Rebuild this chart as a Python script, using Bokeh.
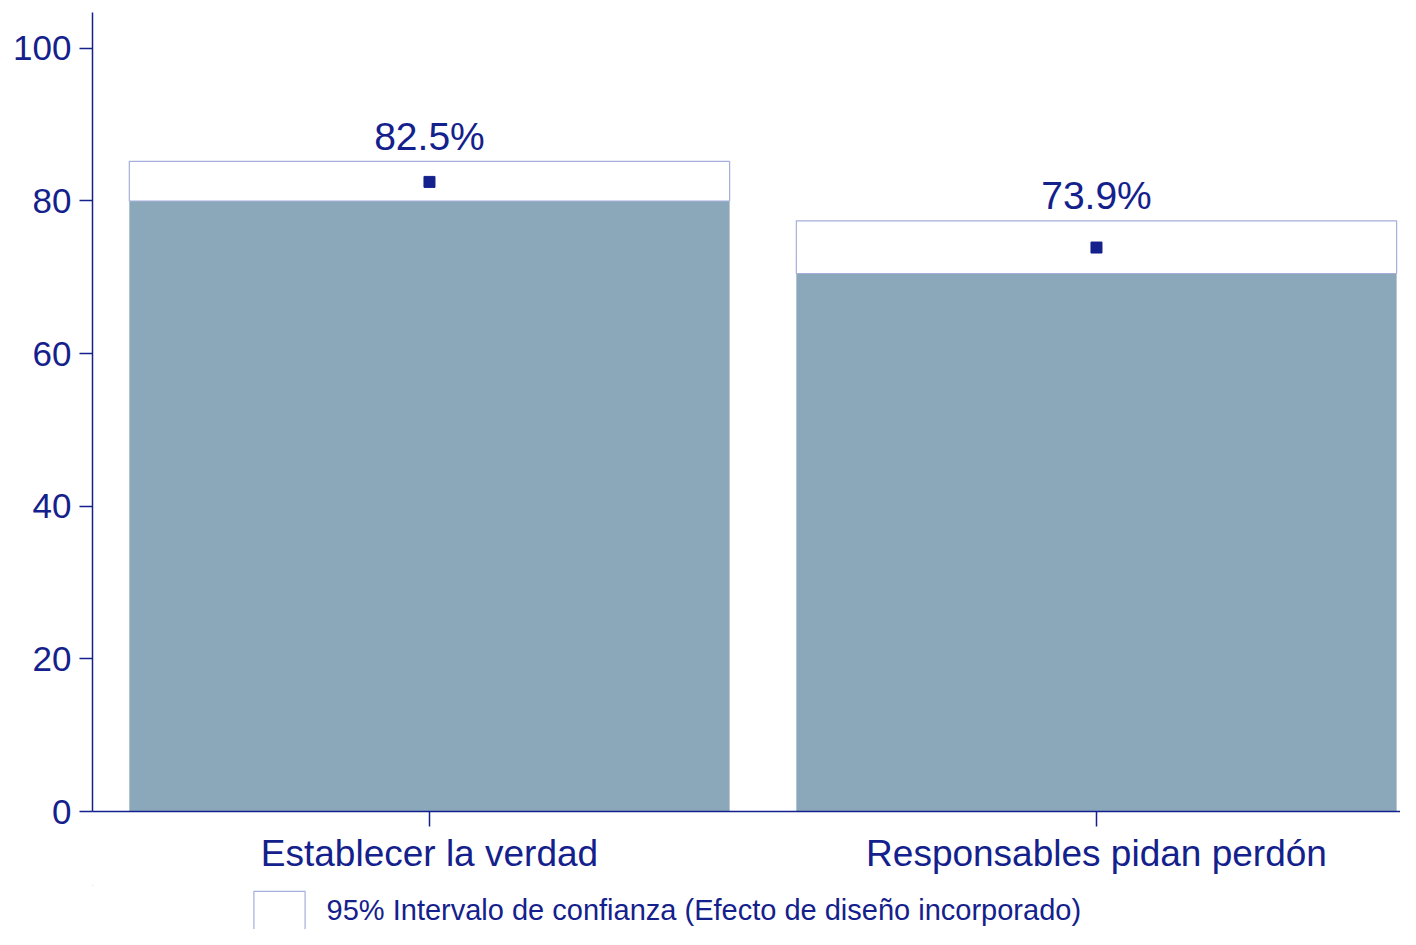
from bokeh.plotting import figure
from bokeh.layouts import column
from bokeh.models import (Range1d, FixedTicker, ColumnDataSource, Legend, LegendItem)
from bokeh.core.properties import value
from bokeh.embed import file_html
from bokeh.resources import INLINE

# ---- data ----
categories = ["Establecer la verdad", "Responsables pidan perdón"]
positions = [1, 2]
means = [82.5, 73.9]
ci_low = [80.0, 70.5]
ci_high = [85.2, 77.4]
labels = ["82.5%", "73.9%"]
y_ticks = [0, 20, 40, 60, 80, 100]
legend_label = "95% Intervalo de confianza (Efecto de diseño incorporado)"

NAVY = "#14218C"
BAR = "#8BA8BB"
CI_LINE = "#A6AEDB"
FONT = "Liberation Sans"

W, H_MAIN, H_LEG = 1400, 885, 44

src = ColumnDataSource(dict(x=positions, mean=means, low=ci_low, high=ci_high,
                            zero=[0] * len(positions), label=labels))

p = figure(width=W, height=H_MAIN, output_backend="svg", toolbar_location=None,
           x_range=Range1d(0.4948, 2.4558), y_range=Range1d(0, 104.7),
           min_border_left=92, min_border_top=12, min_border_right=0,
           min_border_bottom=74)
p.outline_line_color = None
p.grid.visible = False
p.background_fill_color = "white"
p.border_fill_color = "white"

p.vbar(x="x", top="low", bottom="zero", width=0.9, source=src,
       fill_color=BAR, line_color=None)
p.vbar(x="x", top="high", bottom="low", width=0.9, source=src,
       fill_color="white", line_color=CI_LINE, line_width=1.2)
p.scatter(x="x", y="mean", source=src, marker="square", size=11,
          fill_color=NAVY, line_color=NAVY)
p.text(x="x", y="high", text="label", source=src, text_align="center",
       text_baseline="alphabetic", y_offset=-25, text_color=NAVY,
       text_font=value(FONT), text_font_size="39px")

# axes
p.xaxis.ticker = FixedTicker(ticks=positions)
p.xaxis.major_label_overrides = {pos: c for pos, c in zip(positions, categories)}
p.yaxis.ticker = FixedTicker(ticks=y_ticks)
for ax in (p.xaxis[0], p.yaxis[0]):
    ax.axis_line_color = NAVY
    ax.axis_line_width = 1.5
    ax.major_tick_line_color = NAVY
    ax.major_tick_line_width = 1.5
    ax.major_tick_in = 0
    ax.minor_tick_line_color = None
    ax.major_label_text_color = NAVY
    ax.major_label_text_font = FONT
p.xaxis.major_tick_out = 15
p.xaxis.major_label_text_font_size = "37px"
p.xaxis.major_label_standoff = 6
p.yaxis.major_tick_out = 13
p.yaxis.major_label_text_font_size = "35px"
p.yaxis.major_label_standoff = 8

# ---- legend strip below the chart ----
# its ranges keep the key renderer's boxes out of view; only the legend shows
q = figure(width=W, height=H_LEG, output_backend="svg", toolbar_location=None,
           x_axis_location=None, y_axis_location=None,
           x_range=Range1d(10, 11), y_range=Range1d(10, 11),
           min_border_left=92, min_border_right=0, min_border_top=0,
           min_border_bottom=0)
q.outline_line_color = None
q.grid.visible = False
q.background_fill_color = "white"
q.border_fill_color = "white"
ci_key = q.vbar(x="x", top="high", bottom="low", width=0.9, source=src,
                fill_color="white", line_color=CI_LINE, line_width=1.2)

legend = Legend(items=[LegendItem(label=legend_label, renderers=[ci_key], index=0)],
                location=(154.6, -5), glyph_width=64, glyph_height=48,
                label_standoff=16, padding=0, margin=0,
                label_text_font=FONT, label_text_font_size="29px",
                label_text_color=NAVY, border_line_color=None,
                background_fill_alpha=0)
q.add_layout(legend, "center")

layout = column(p, q, spacing=0)
open("out.html", "w").write(file_html(layout, INLINE))
